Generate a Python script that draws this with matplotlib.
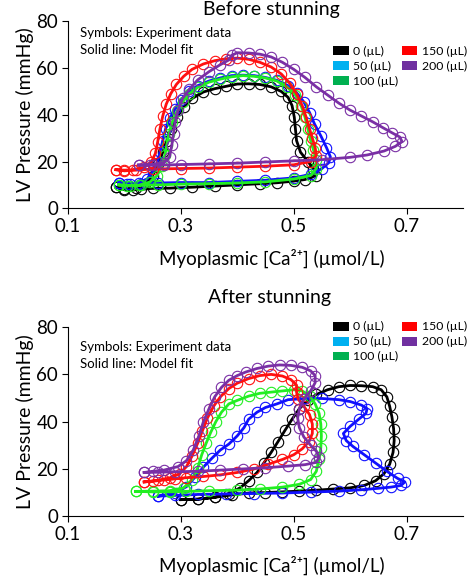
import matplotlib
matplotlib.use('Agg')
import matplotlib.pyplot as plt
from matplotlib.patches import Patch

plt.rcParams['font.family'] = ['Lato', 'DejaVu Sans']

doses = ['0 (µL)', '50 (µL)', '100 (µL)', '150 (µL)', '200 (µL)']
line_colors = ['#000000', '#1010ff', '#22ee22', '#ff1010', '#7a2fa5']
legend_colors = ['#000000', '#00b0f0', '#00b050', '#ff0000', '#7030a0']

# ---- Before stunning: (Ca, pressure) loops ----
ca_before_0 = [0.185, 0.20, 0.215, 0.23, 0.25, 0.28, 0.32, 0.36, 0.40, 0.44, 0.47, 0.50, 0.52, 0.54,
               0.535, 0.525, 0.512, 0.505, 0.503, 0.501, 0.497, 0.49, 0.478, 0.46, 0.44, 0.42, 0.40,
               0.38, 0.36, 0.34, 0.32, 0.305, 0.293, 0.283, 0.275, 0.268, 0.26, 0.25, 0.237, 0.22,
               0.20, 0.185]
p_before_0 = [9.0, 8.0, 7.8, 8.2, 8.5, 8.6, 9.0, 9.5, 10.0, 10.5, 10.9, 11.6, 12.3, 14.0,
              17, 20, 24, 29, 34, 39, 44, 47.5, 50, 52, 53, 53.3, 53.2,
              52.2, 51.2, 49.8, 47, 43.5, 39, 34, 29, 24, 19, 14, 10.5, 8.5,
              8.2, 9.0]

ca_before_50 = [0.19, 0.21, 0.23, 0.26, 0.30, 0.35, 0.40, 0.45, 0.50, 0.53, 0.55, 0.562, 0.565,
                0.558, 0.548, 0.537, 0.528, 0.518, 0.505, 0.49, 0.47, 0.45, 0.43, 0.41, 0.39, 0.37,
                0.35, 0.33, 0.315, 0.30, 0.29, 0.28, 0.273, 0.268, 0.263, 0.258, 0.25, 0.24, 0.225,
                0.205, 0.19]
p_before_50 = [11.0, 10.3, 10.5, 10.8, 11.0, 11.0, 11.5, 12.0, 13.0, 14.5, 17.0, 19.5, 22,
               26, 31, 36, 41, 45.5, 49.5, 52.5, 54.8, 56, 56.8, 57, 56.8, 55.8,
               54.5, 52.5, 50, 46.5, 42.5, 38.5, 34, 29, 24, 19.5, 15.5, 12.5, 10.8,
               10.5, 11.0]

ca_before_100 = [0.19, 0.21, 0.23, 0.26, 0.30, 0.35, 0.40, 0.45, 0.50, 0.53, 0.54, 0.54, 0.535,
                 0.53, 0.525, 0.52, 0.513, 0.503, 0.488, 0.47, 0.45, 0.43, 0.41, 0.39, 0.37, 0.35,
                 0.33, 0.315, 0.303, 0.293, 0.285, 0.279, 0.275, 0.272, 0.266, 0.258, 0.245, 0.225,
                 0.205, 0.19]
p_before_100 = [10.0, 9.6, 9.8, 10.0, 10.3, 10.5, 10.8, 11.3, 12.5, 14.0, 17.0, 20.5, 25,
                29, 34, 39, 44, 48.5, 52, 54.5, 55.8, 56.5, 56.8, 56.3, 55.3, 54.0,
                51.8, 49, 45.5, 41.5, 37, 32, 27, 23, 18, 14, 11.2, 9.8,
                9.6, 10.0]

ca_before_150 = [0.185, 0.20, 0.22, 0.25, 0.30, 0.35, 0.40, 0.45, 0.50, 0.53, 0.54, 0.538, 0.533,
                 0.528, 0.522, 0.515, 0.505, 0.493, 0.478, 0.46, 0.44, 0.42, 0.40, 0.38, 0.36,
                 0.34, 0.32, 0.305, 0.292, 0.282, 0.274, 0.268, 0.263, 0.259, 0.255, 0.248, 0.235,
                 0.215, 0.20, 0.185]
p_before_150 = [16.5, 16.0, 16.3, 16.8, 17.0, 17.2, 17.6, 18.0, 18.6, 20.0, 22.5, 26, 30,
                34, 39, 44, 49, 53.5, 57.5, 60.5, 62.5, 63.8, 64.3, 64.0, 63.2,
                61.8, 59.5, 56.5, 53, 49, 44.5, 39.5, 34, 28.5, 23.5, 20, 17.5,
                16.5, 16.3, 16.5]

ca_before_200 = [0.225, 0.245, 0.27, 0.30, 0.35, 0.40, 0.45, 0.50, 0.55, 0.60, 0.63, 0.66, 0.68,
                 0.692, 0.688, 0.675, 0.658, 0.64, 0.62, 0.60, 0.58, 0.56, 0.54, 0.52, 0.50, 0.48,
                 0.46, 0.44, 0.42, 0.40, 0.39, 0.385, 0.37, 0.35, 0.33, 0.315, 0.303, 0.295, 0.29,
                 0.287, 0.284, 0.28, 0.27, 0.25, 0.225]
p_before_200 = [18.5, 18.4, 18.5, 18.7, 19.0, 19.3, 19.8, 20.3, 20.8, 21.8, 22.8, 24.5, 26.5,
                28.5, 30.5, 32.2, 34.5, 37, 39.5, 42, 45, 48.5, 52, 56, 59.5, 62.5,
                64.8, 66.0, 66.5, 66.6, 65.5, 63.5, 61.5, 58.5, 55, 51, 47, 42, 37,
                32, 27, 22, 19.5, 18.7, 18.5]

# ---- After stunning ----
ca_after_0 = [0.30, 0.33, 0.36, 0.39, 0.42, 0.45, 0.48, 0.51, 0.54, 0.57, 0.60, 0.625, 0.645,
              0.66, 0.67, 0.676, 0.678, 0.677, 0.674, 0.67, 0.665, 0.655, 0.64, 0.62, 0.60, 0.58,
              0.56, 0.54, 0.525, 0.51, 0.497, 0.485, 0.472, 0.46, 0.447, 0.435, 0.42, 0.405,
              0.385, 0.36, 0.33, 0.30]
p_after_0 = [7.0, 7.2, 8.0, 9.0, 9.8, 10.0, 10.3, 10.6, 11.0, 11.5, 12.0, 13.0, 15.0,
             18.0, 22, 27, 32, 37, 42, 46.5, 50.5, 53.5, 54.8, 55.2, 55.3, 54.8,
             53.5, 51.5, 49, 45.5, 41, 36.5, 31.5, 27, 22.5, 18.5, 15, 12,
             9.5, 8.0, 7.2, 7.0]

ca_after_50 = [0.26, 0.29, 0.33, 0.38, 0.43, 0.48, 0.53, 0.58, 0.62, 0.65, 0.672, 0.69, 0.697,
               0.684, 0.665, 0.645, 0.625, 0.605, 0.593, 0.588, 0.60, 0.615, 0.628, 0.63, 0.62,
               0.60, 0.58, 0.55, 0.52, 0.49, 0.47, 0.45, 0.435, 0.42, 0.412, 0.40, 0.385, 0.37,
               0.355, 0.34, 0.325, 0.31, 0.29, 0.26]
p_after_50 = [8.5, 8.8, 9.2, 9.4, 9.6, 9.8, 10.2, 10.6, 11.2, 11.8, 12.3, 13.0, 14.5,
              16, 19, 22.5, 26, 29.5, 32, 35, 38, 41, 43.5, 45.5, 47,
              48.5, 49.3, 49.8, 49.8, 49.3, 47.5, 46, 44, 41, 37.5, 34, 30.5, 28,
              24.5, 20.8, 16.5, 12.5, 9.8, 8.5]

ca_after_100 = [0.22, 0.25, 0.28, 0.31, 0.35, 0.40, 0.44, 0.48, 0.51, 0.53, 0.54, 0.545, 0.548,
                0.549, 0.548, 0.545, 0.538, 0.528, 0.515, 0.50, 0.48, 0.46, 0.44, 0.42, 0.40,
                0.385, 0.372, 0.362, 0.353, 0.345, 0.337, 0.33, 0.32, 0.305, 0.28, 0.25, 0.22]
p_after_100 = [10.5, 10.3, 10.3, 10.5, 10.8, 11.0, 11.5, 12.3, 13.5, 15.5, 19, 24, 29,
               34, 39, 43.5, 47.5, 51, 53, 53.5, 53, 52.5, 52, 50.8, 49,
               47.5, 44, 40, 35.5, 31, 26, 20.5, 15.5, 12.0, 10.8, 10.6, 10.5]

ca_after_150 = [0.235, 0.25, 0.27, 0.29, 0.31, 0.34, 0.37, 0.40, 0.43, 0.455, 0.48, 0.50, 0.515,
                0.527, 0.533, 0.533, 0.528, 0.518, 0.508, 0.505, 0.505, 0.495, 0.48, 0.46, 0.44,
                0.42, 0.40, 0.385, 0.37, 0.358, 0.347, 0.338, 0.33, 0.32, 0.31, 0.298, 0.28,
                0.26, 0.235]
p_after_150 = [14.5, 14.8, 15.3, 15.8, 16.3, 16.8, 17.5, 18.5, 20.0, 22.0, 24.0, 26.0, 28.5,
               31.5, 35, 39, 43, 46.5, 49.5, 52.5, 55.5, 57.8, 59.3, 60, 59.5,
               58.2, 56.3, 54, 50.5, 46.5, 41.5, 36, 31, 25.5, 21, 18, 16.2,
               15.2, 14.5]

ca_after_200 = [0.235, 0.26, 0.29, 0.33, 0.37, 0.41, 0.45, 0.49, 0.52, 0.54, 0.545, 0.54, 0.53,
                0.518, 0.51, 0.507, 0.51, 0.518, 0.53, 0.538, 0.538, 0.53, 0.515, 0.495, 0.475,
                0.455, 0.435, 0.415, 0.40, 0.385, 0.372, 0.36, 0.35, 0.34, 0.332, 0.322, 0.31,
                0.295, 0.27, 0.25, 0.235]
p_after_200 = [18.5, 18.6, 18.8, 19.0, 19.5, 20.0, 20.5, 21.2, 21.8, 22.8, 25, 27.5, 30,
               33.5, 37.5, 41.5, 45.5, 49.5, 53, 56.5, 59.5, 61.5, 63, 63.8, 64,
               63.5, 62.5, 61, 59.5, 57.5, 54.5, 50.5, 45.5, 40, 34, 28, 23.5,
               21, 19.5, 19, 18.5]

x_ticks = [0.1, 0.3, 0.5, 0.7]
y_ticks = [0, 20, 40, 60, 80]

before = [(ca_before_0, p_before_0), (ca_before_50, p_before_50), (ca_before_100, p_before_100),
          (ca_before_150, p_before_150), (ca_before_200, p_before_200)]
after = [(ca_after_0, p_after_0), (ca_after_50, p_after_50), (ca_after_100, p_after_100),
         (ca_after_150, p_after_150), (ca_after_200, p_after_200)]


def draw_panel(ax, loops, note_y, legend_top):
    for (ca, p), c in zip(loops, line_colors):
        ax.plot(ca, p, color=c, lw=2.0, marker='o', ms=7.5, mfc='none', mec=c, mew=0.8)
    ax.set_xlim(0.1, 0.8)
    ax.set_ylim(0, 80)
    ax.set_xticks(x_ticks)
    ax.set_xticklabels([str(t) for t in x_ticks])
    ax.set_yticks(y_ticks)
    ax.spines['top'].set_visible(False)
    ax.spines['right'].set_visible(False)
    ax.tick_params(labelsize=13.5, length=4, direction='out', pad=3)
    ax.set_ylabel('LV Pressure (mmHg)', fontsize=14, labelpad=2)
    ax.text(0.03, note_y[0], 'Symbols: Experiment data', transform=ax.transAxes,
            fontsize=9.5, va='center')
    ax.text(0.03, note_y[1], 'Solid line: Model fit', transform=ax.transAxes,
            fontsize=9.5, va='center')
    handles = [Patch(facecolor=c, edgecolor='none') for c in legend_colors]
    ax.legend(handles, doses, ncol=2, frameon=False, fontsize=8.8, handlelength=1.3,
              handleheight=0.75, handletextpad=0.35, columnspacing=0.25, labelspacing=0.32,
              loc='upper left', bbox_to_anchor=(0.706, legend_top), bbox_transform=fig.transFigure,
              borderaxespad=0, borderpad=0)


fig = plt.figure(figsize=(4.72, 5.80), dpi=100)
ax1 = fig.add_axes([0.144, 0.641, 0.837, 0.322])
ax2 = fig.add_axes([0.144, 0.110, 0.837, 0.326])

draw_panel(ax1, before, (0.936, 0.845), 0.921)
draw_panel(ax2, after, (0.894, 0.804), 0.446)

fig.text(0.576, 0.999, 'Before stunning', ha='center', va='top', fontsize=14)
fig.text(0.572, 0.502, 'After stunning', ha='center', va='top', fontsize=14)
fig.text(0.576, 0.555, 'Myoplasmic [Ca²⁺] (µmol/L)', ha='center', va='center', fontsize=13.5)
fig.text(0.576, 0.025, 'Myoplasmic [Ca²⁺] (µmol/L)', ha='center', va='center', fontsize=13.5)

fig.savefig('out.png', dpi=100)
